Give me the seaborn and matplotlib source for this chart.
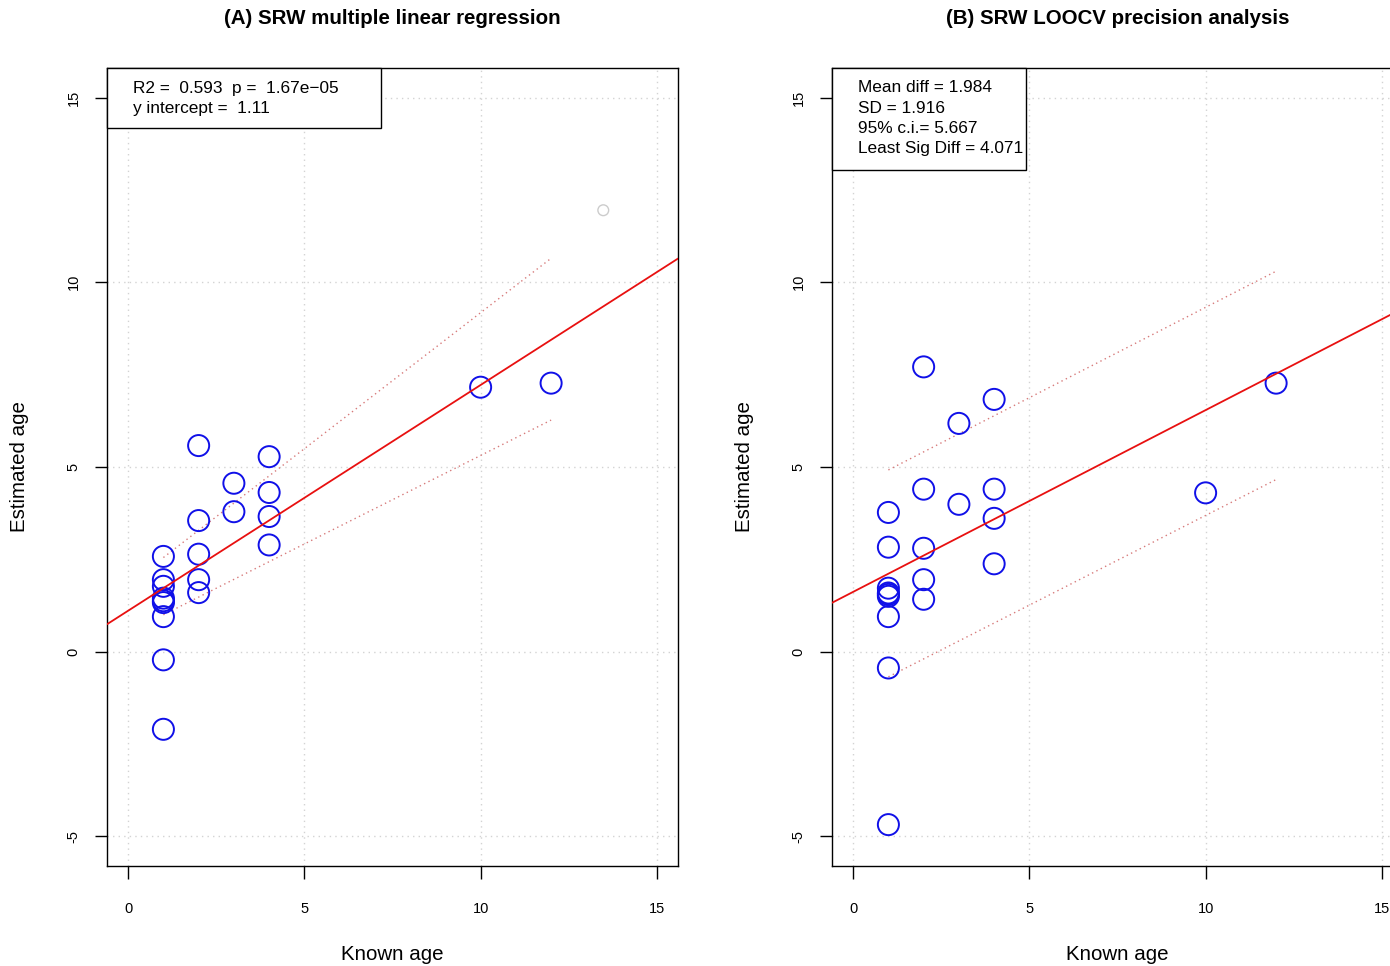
import numpy as np
import pandas as pd
import matplotlib
matplotlib.use("Agg")
import matplotlib.pyplot as plt
from matplotlib.patches import Rectangle
import seaborn as sns

# ---------------- data ----------------
known_a = [1, 1, 1, 1, 1, 1, 1, 1, 1,
           2, 2, 2, 2, 2,
           3, 3,
           4, 4, 4, 4,
           10, 12]
est_a = [2.58, 1.95, 1.77, 1.45, 1.38, 1.33, 0.95, -0.22, -2.10,
         5.58, 3.55, 2.64, 1.95, 1.60,
         4.56, 3.79,
         5.28, 4.31, 3.66, 2.89,
         7.16, 7.27]
grey_x = [13.48]
grey_y = [11.95]
fit_a = (1.11, 0.611)            # intercept, slope
band_a_x = [1, 12]
band_a_upper = [2.55, 10.65]
band_a_lower = [1.00, 6.27]
text_a = ["R2 =  0.593  p =  1.67e\u221205", "y intercept =  1.11"]

known_b = [1, 1, 1, 1, 1, 1, 1, 1, 1,
           2, 2, 2, 2, 2,
           3, 3,
           4, 4, 4, 4,
           10, 12]
est_b = [3.77, 2.83, 1.72, 1.59, 1.55, 1.50, 0.95, -0.44, -4.68,
         7.71, 4.40, 2.80, 1.95, 1.42,
         6.18, 3.99,
         6.83, 4.40, 3.61, 2.38,
         4.30, 7.27]
fit_b = (1.62, 0.492)
band_b_x = [1, 12]
band_b_upper = [4.92, 10.30]
band_b_lower = [-0.68, 4.66]
text_b = ["Mean diff = 1.984", "SD = 1.916", "95% c.i.= 5.667", "Least Sig Diff = 4.071"]

ticks = [0, 5, 10, 15]
titles = ["(A) SRW multiple linear regression", "(B) SRW LOOCV precision analysis"]
xlabel = "Known age"
ylabel = "Estimated age"

# ---------------- style ----------------
sns.set_style("white")
plt.rcParams['font.family'] = ['Liberation Sans', 'DejaVu Sans']
plt.rcParams['text.color'] = 'black'
plt.rcParams['axes.labelcolor'] = 'black'
plt.rcParams['xtick.color'] = 'black'
plt.rcParams['ytick.color'] = 'black'

fig = plt.figure(figsize=(13.9, 9.66), dpi=100)
W, H = 1390, 966
ax_w = 571 / W
ax_h = 798 / H
ax_bottom = 1 - 866 / H
axA = fig.add_axes([107 / W, ax_bottom, ax_w, ax_h])
axB = fig.add_axes([832 / W, ax_bottom, ax_w, ax_h])


def style_axes(ax, title, cx):
    ax.set_xlim(-0.6, 15.6)
    ax.set_ylim(-5.8, 15.8)
    ax.set_xticks(ticks)
    ax.set_yticks([-5, 0, 5, 10, 15])
    ax.set_xticklabels([str(t) for t in ticks], fontsize=10.5)
    ax.set_yticklabels(["-5", "0", "5", "10", "15"], fontsize=10.5, rotation=90, va="center")
    ax.tick_params(axis="x", length=9, width=1, pad=17, colors="black", direction="out", bottom=True)
    ax.tick_params(axis="y", length=9, width=1, pad=10, colors="black", direction="out", left=True)
    for s in ax.spines.values():
        s.set_color("black")
        s.set_linewidth(1.0)
        s.set_visible(True)
    ax.grid(True, color="#d3d3d3", linestyle=(0, (1, 3)), linewidth=1.0)
    ax.set_axisbelow(True)
    ax.set_xlabel("")
    ax.set_ylabel("")
    fig.text(cx / W, 1 - 19 / H, title, ha="center", va="center",
             fontsize=14.8, fontweight="bold", color="black")
    fig.text(cx / W, 1 - 955 / H, xlabel, ha="center", va="center", fontsize=14.8,
             color="black")


def add_box(ax, lines, xfrac_right, yfrac_bottom):
    rect = Rectangle((0, yfrac_bottom), xfrac_right, 1 - yfrac_bottom,
                     transform=ax.transAxes, facecolor="white",
                     edgecolor="black", linewidth=1.0, zorder=5, clip_on=False)
    ax.add_patch(rect)
    for i, t in enumerate(lines):
        ax.text(0.0455, 1 - (20 + 20.3 * i) / 798, t, transform=ax.transAxes,
                ha="left", va="center", fontsize=12.4, zorder=6, color="black")


# ---- Panel A ----
style_axes(axA, titles[0], (107 + 678) / 2)
dfA = pd.DataFrame({"known": known_a, "est": est_a})
sns.scatterplot(data=dfA, x="known", y="est", ax=axA, s=230, marker="o",
                facecolors="none", edgecolor="#1010e8", linewidth=1.4, zorder=3)
sns.scatterplot(x=grey_x, y=grey_y, ax=axA, s=60, marker="o",
                facecolors="none", edgecolor="#cccccc", linewidth=1.0, zorder=3)
axA.axline((0, fit_a[0]), slope=fit_a[1], color="#e81010", linewidth=1.3, zorder=4)
sns.lineplot(x=band_a_x, y=band_a_upper, ax=axA, color="#d77a7a",
             linestyle=(0, (1, 2.5)), linewidth=1.0, zorder=2)
sns.lineplot(x=band_a_x, y=band_a_lower, ax=axA, color="#d77a7a",
             linestyle=(0, (1, 2.5)), linewidth=1.0, zorder=2)
axA.set_xlabel("")
axA.set_ylabel("")
add_box(axA, text_a, (381 - 107) / 571, 1 - (128 - 68) / 798)

# ---- Panel B ----
style_axes(axB, titles[1], (832 + 1403) / 2)
dfB = pd.DataFrame({"known": known_b, "est": est_b})
sns.scatterplot(data=dfB, x="known", y="est", ax=axB, s=230, marker="o",
                facecolors="none", edgecolor="#1010e8", linewidth=1.4, zorder=3)
axB.axline((0, fit_b[0]), slope=fit_b[1], color="#e81010", linewidth=1.3, zorder=4)
sns.lineplot(x=band_b_x, y=band_b_upper, ax=axB, color="#d77a7a",
             linestyle=(0, (1, 2.5)), linewidth=1.0, zorder=2)
sns.lineplot(x=band_b_x, y=band_b_lower, ax=axB, color="#d77a7a",
             linestyle=(0, (1, 2.5)), linewidth=1.0, zorder=2)
axB.set_xlabel("")
axB.set_ylabel("")
add_box(axB, text_b, (1026 - 832) / 571, 1 - (170 - 68) / 798)

# y labels
fig.text(20 / W, 1 - 467 / H, ylabel, rotation=90, ha="center", va="center",
         fontsize=14.8, color="black")
fig.text(745 / W, 1 - 467 / H, ylabel, rotation=90, ha="center", va="center",
         fontsize=14.8, color="black")

fig.savefig("out.png", dpi=100)
